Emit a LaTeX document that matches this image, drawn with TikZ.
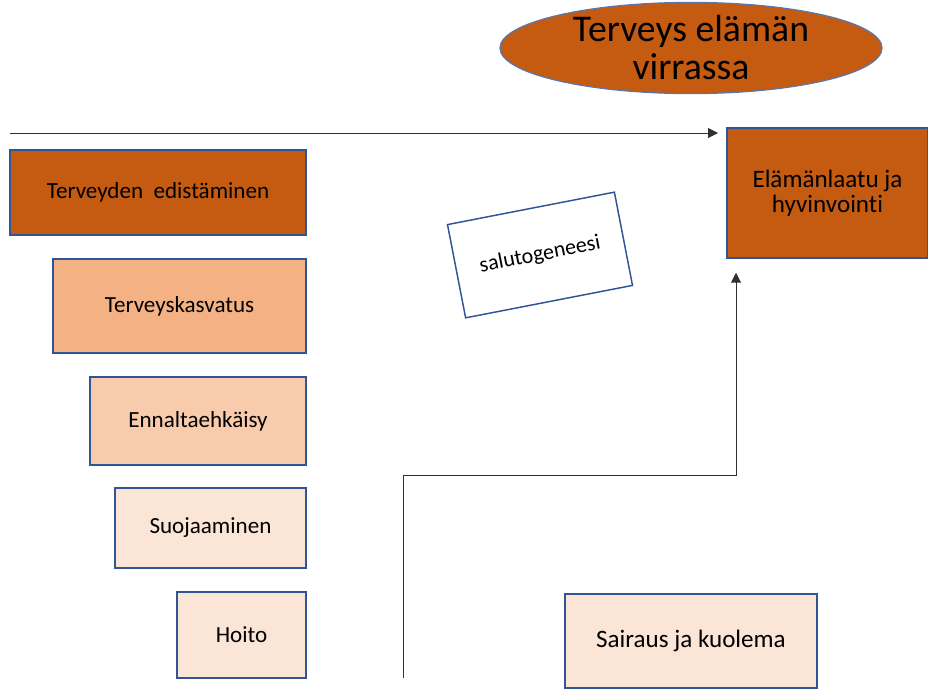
\documentclass[tikz,border=0pt]{standalone}
\usepackage{fontspec}
\setmainfont{Carlito}[Ligatures=NoCommon]
\usetikzlibrary{positioning,arrows.meta,calc,shapes.geometric}
\definecolor{mDarkOrange}{HTML}{C55A11}
\definecolor{mMidOrange}{HTML}{F4B183}
\definecolor{mLightOrange}{HTML}{F8CBAD}
\definecolor{mPaleOrange}{HTML}{FBE5D6}
\definecolor{mBorder}{HTML}{2F5597}
\definecolor{mLine}{HTML}{303030}

\begin{document}
\begin{tikzpicture}[x=0.75pt,y=-0.75pt,
  box/.style={draw=mBorder, line width=1.1pt, inner sep=0pt, align=center, font=\fontsize{17.3}{20}\selectfont},
  bigtext/.style={font=\fontsize{18.8}{19}\selectfont},
  arr/.style={draw=mLine, line width=0.75pt, -{Triangle[length=7.5pt,width=7.5pt]}}]
\useasboundingbox (0,0) rectangle (928,689);
% otsikko
\node[ellipse, draw=mBorder!80, line width=0.9pt, fill=mDarkOrange, inner sep=0pt,
  minimum width=286.5pt, minimum height=65.25pt, align=center,
  font=\fontsize{28.3}{28.5}\selectfont] (otsikko) at (691,48) {Terveys elämän\\virrassa};
% portaat
\node[box, fill=mDarkOrange, minimum width=222pt, minimum height=63.75pt] (edist) at (158,192.5) {Terveyden\ \ edistäminen};
\node[box, fill=mMidOrange, minimum width=189.75pt, minimum height=70.5pt] (kasv) at (179.5,306) {Terveyskasvatus};
\node[box, fill=mLightOrange, minimum width=162pt, minimum height=66pt] (ennalt) at (198,421) {Ennaltaehkäisy};
\node[box, fill=mPaleOrange, minimum width=143.25pt, minimum height=60pt] (suoj) at (210.5,528) {Suojaaminen};
\node[box, fill=mPaleOrange, minimum width=96.75pt, minimum height=64.5pt] (hoito) at (241.5,635) {Hoito};
% oikea puoli
\node[box, fill=white, rotate=11, minimum width=127.5pt, minimum height=71.25pt,
  font=\fontsize{16.5}{18}\selectfont] (saluto) at (540,255) {salutogeneesi};
\node[box, bigtext, fill=mDarkOrange, minimum width=150.75pt, minimum height=97.5pt] (elam) at (827.5,193) {Elämänlaatu ja\\hyvinvointi};
\node[box, bigtext, fill=mPaleOrange, minimum width=189pt, minimum height=70.5pt] (sair) at (691,641) {Sairaus ja kuolema};
% nuolet
\coordinate (virtaA) at (10,133);
\coordinate (virtaB) at (718,133);
\draw[arr] (virtaA) -- (virtaB);
\coordinate (nousu) at (403,678);
\coordinate (kulma) at (736,475);
\draw[arr, shorten >=10.5pt] (nousu) |- (kulma) -- (kulma |- elam.south);
\end{tikzpicture}
\end{document}
